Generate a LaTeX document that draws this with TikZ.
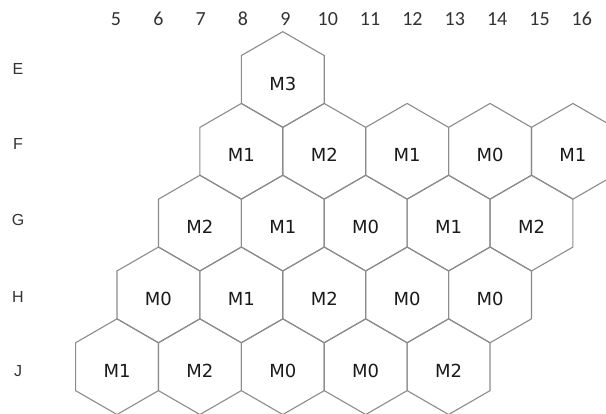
\documentclass[tikz,border=0pt]{standalone}
\usepackage{fontspec}
\setmainfont{DejaVu Sans}
\newfontfamily\colfont{Carlito}
\newfontfamily\rowfont{Liberation Sans}
\usetikzlibrary{shapes.geometric}
\definecolor{hexline}{HTML}{8C8C8C}
\definecolor{hextext}{HTML}{1A1A1A}
\definecolor{axistext}{HTML}{333333}
\begin{document}
\begin{tikzpicture}[x=1pt,y=-1pt,
  hexcell/.style={draw=hexline, line width=1.1pt, regular polygon,
    regular polygon sides=6, shape border rotate=30,
    minimum size=95.7pt, inner sep=0pt, outer sep=0pt},
  celltext/.style={font=\fontsize{18}{18}\selectfont, text=hextext, yshift=-4pt},
  collabel/.style={font=\colfont\fontsize{20}{20}\selectfont, text=axistext},
  rowlabel/.style={font=\rowfont\fontsize{16}{16}\selectfont, text=axistext}]
\path[use as bounding box] (0,0) rectangle (606,414);
\clip (0,0) rectangle (606,414);
\fill[white] (0,0) rectangle (606,414);
% column labels
\foreach \c in {5,...,16}
  \node[collabel] (col\c) at ({116+(\c-5)*42.35}, 19) {\c};
% row labels
\foreach \r/\y in {E/69, F/144, G/220, H/297, J/371}
  \node[rowlabel] (row\r) at (18, \y) {\r};
% hex cells
\foreach \r/\c/\t/\y in {
  E/9/M3/79.5,
  F/8/M1/151.3, F/10/M2/151.3, F/12/M1/151.3, F/14/M0/151.3, F/16/M1/151.3,
  G/7/M2/223.1, G/9/M1/223.1, G/11/M0/223.1, G/13/M1/223.1, G/15/M2/223.1,
  H/6/M0/294.9, H/8/M1/294.9, H/10/M2/294.9, H/12/M0/294.9, H/14/M0/294.9,
  J/5/M1/366.7, J/7/M2/366.7, J/9/M0/366.7, J/11/M0/366.7, J/13/M2/366.7}
  \node[hexcell, label={[celltext]center:\t}] (h\r\c) at ({117+(\c-5)*41.45}, \y) {};
\end{tikzpicture}
\end{document}
